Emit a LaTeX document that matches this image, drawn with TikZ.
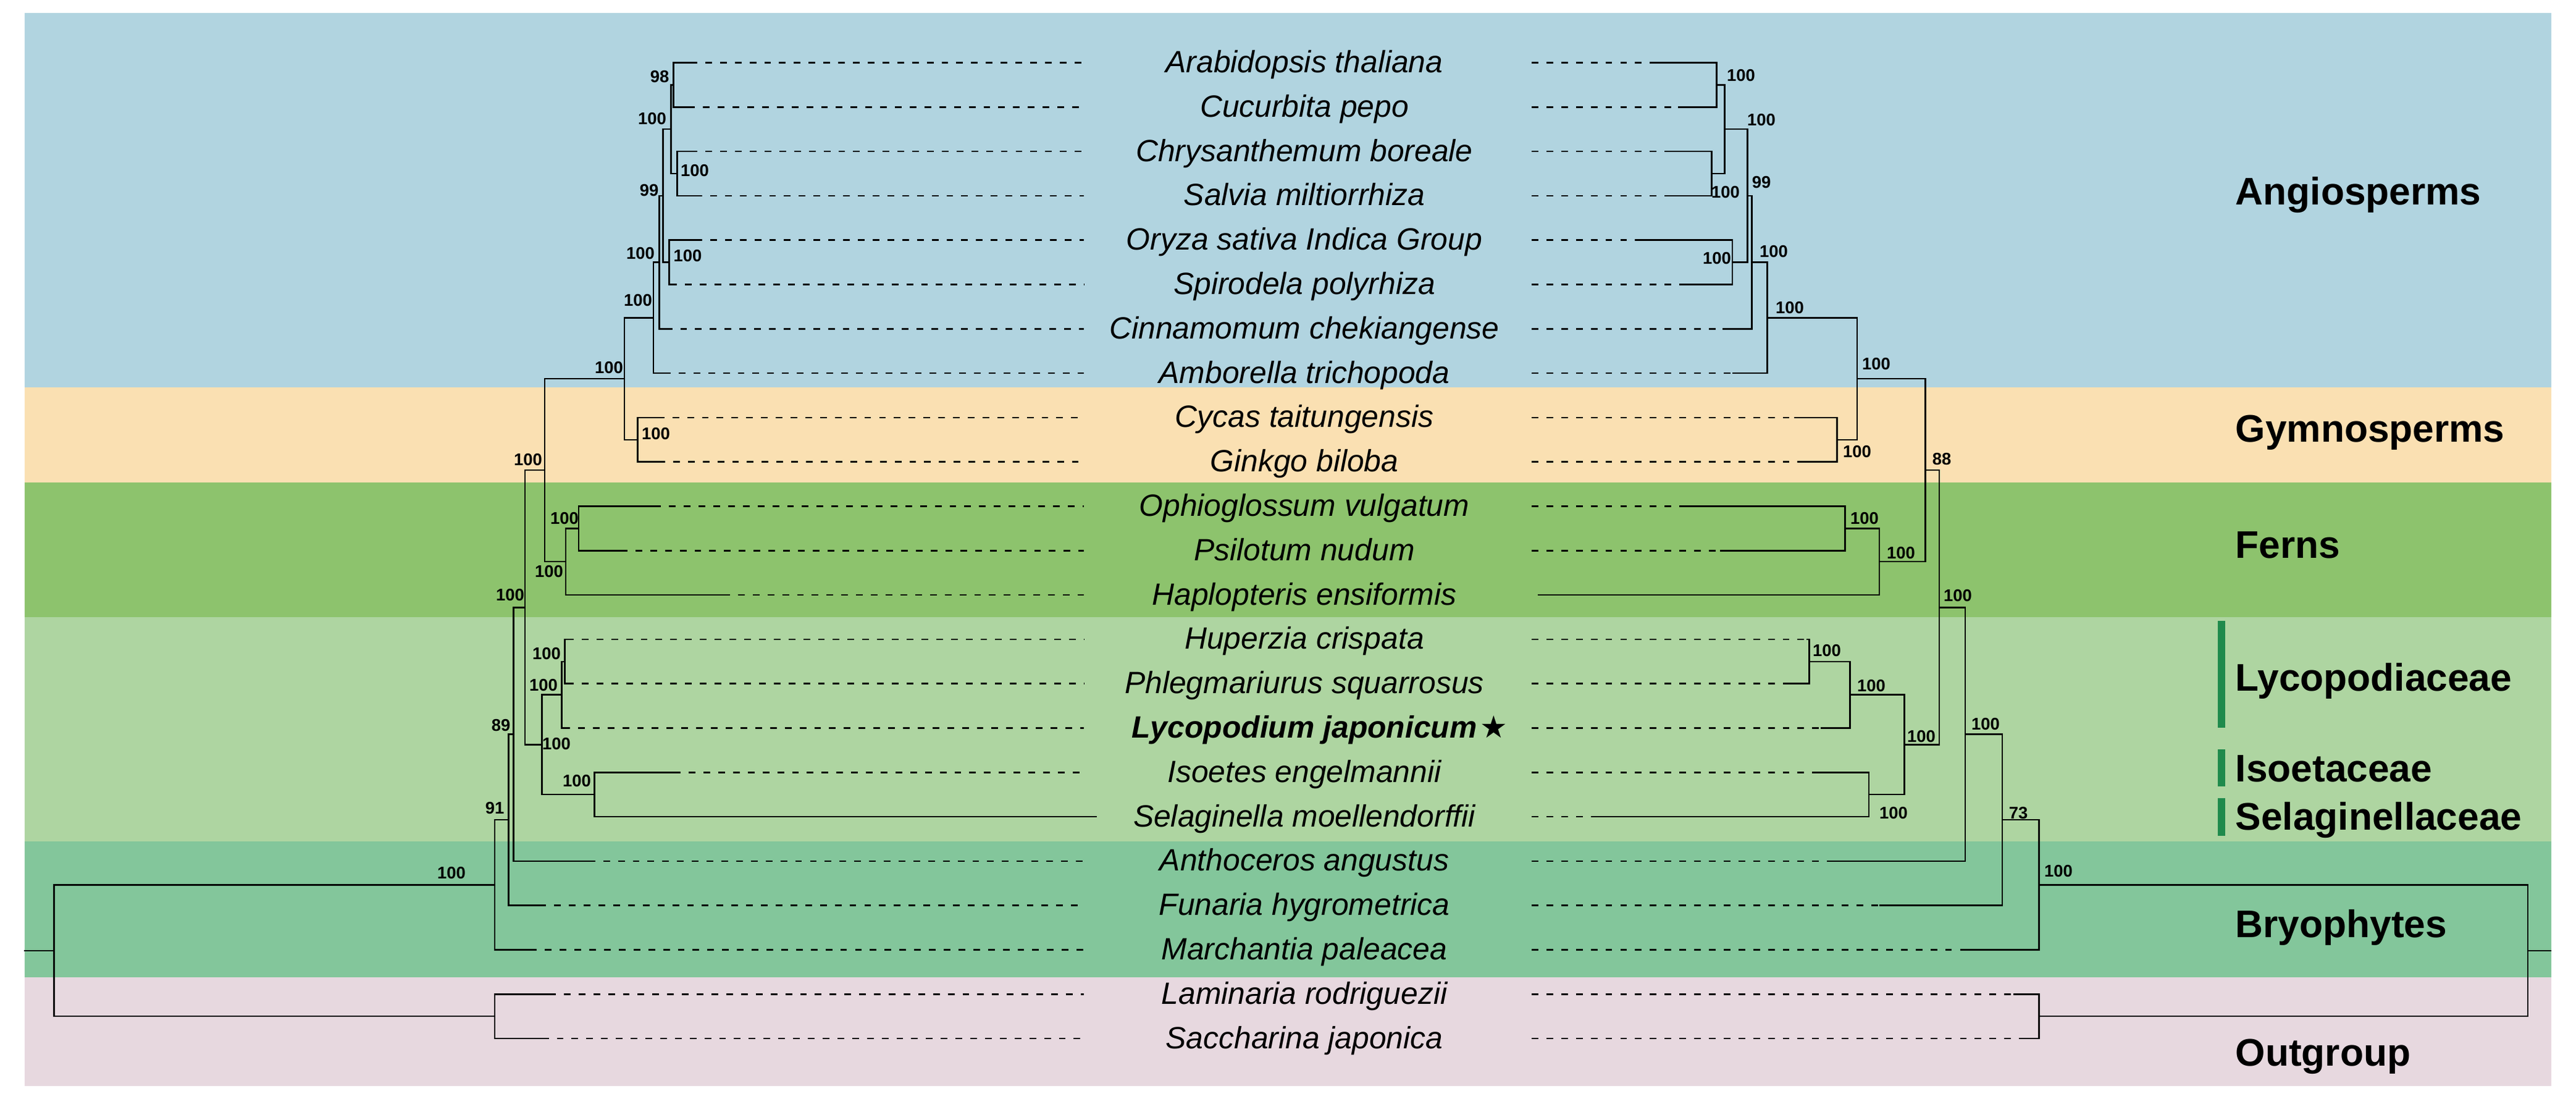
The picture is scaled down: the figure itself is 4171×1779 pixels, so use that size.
\documentclass[tikz,border=0pt]{standalone}
\usepackage{fontspec}
\setmainfont{Liberation Sans}
\newfontfamily\symfont{DejaVu Sans}
\definecolor{angio}{HTML}{B1D4E0}
\definecolor{gymno}{HTML}{FAE0B2}
\definecolor{fern}{HTML}{8DC36D}
\definecolor{lyco}{HTML}{AED5A1}
\definecolor{bryo}{HTML}{83C69B}
\definecolor{outg}{HTML}{E7D8DF}
\definecolor{barc}{HTML}{1F8A4C}
\tikzset{
  br/.style={line width=0.7pt},
  dsh/.style={line width=0.7pt, dash pattern=on 3.1pt off 3.7pt},
  bs/.style={font=\fontsize{7.8}{9}\selectfont\bfseries, inner sep=0pt},
  taxon/.style={font=\fontsize{14.17}{16}\selectfont\itshape, anchor=base, inner sep=0pt},
  grp/.style={font=\fontsize{17.7}{20}\selectfont\bfseries, anchor=base west, inner sep=0pt},
}
\begin{document}
\begin{tikzpicture}[x=0.01cm,y=-0.01cm]
\useasboundingbox (0,0) rectangle (4171,1779);
% background bands
\fill[angio] (40,21) rectangle (4131,627);
\fill[gymno] (40,627) rectangle (4131,781);
\fill[fern] (40,781) rectangle (4131,999);
\fill[lyco] (40,999) rectangle (4131,1362);
\fill[bryo] (40,1362) rectangle (4131,1582);
\fill[outg] (40,1582) rectangle (4131,1758);

% leaf coordinates
\foreach \i/\ls/\rs in {1/1118/2676, 2/1114.3/2717, 3/1118.4/2701, 4/1126/2698.7, 5/1126/2649.5, 6/1085/2726.8, 7/1077.6/2789, 8/1075/2805, 9/1064.8/2905, 10/1066/2912, 11/1059.3/2725.5, 12/1005/2784.8, 13/1171/2489.5, 14/918/2925, 15/918/2892, 16/912/2947.5, 17/1091.2/2941, 18/1776/2579.5, 19/952.8/2959, 20/873.4/3043, 21/858.4/3180, 22/889/3260, 23/877.6/3269.6}{
  \coordinate (ls\i) at (\ls,{101.5+(\i-1)*71.8});
  \coordinate (ld\i) at (1755,{101.5+(\i-1)*71.8});
  \coordinate (rs\i) at (\rs,{101.5+(\i-1)*71.8});
  \coordinate (rd\i) at (2480,{101.5+(\i-1)*71.8});
}

% left tree internal nodes
\coordinate (LA) at (1090.3,137.4);
\coordinate (LB) at (1096.4,281.0);
\coordinate (LC) at (1086.7,209.2);
\coordinate (LD) at (1083.7,424.6);
\coordinate (LE) at (1073.5,316.9);
\coordinate (LF) at (1067.3,424.6);
\coordinate (LG) at (1058.2,514.35);
\coordinate (LH) at (1032.7,711.8);
\coordinate (LI) at (1011.2,613.1);
\coordinate (LJ) at (936.9,855.4);
\coordinate (LK) at (915.8,909.25);
\coordinate (LM) at (882.0,761.2);
\coordinate (LN) at (914.6,1070.8);
\coordinate (LO) at (909.5,1124.65);
\coordinate (LP) at (962.4,1286.2);
\coordinate (LQ) at (877.6,1205.4);
\coordinate (LR) at (850.1,983.3);
\coordinate (LS) at (831.6,1188.6);
\coordinate (LT) at (823.3,1327.15);
\coordinate (LU) at (801.0,1432.3);
\coordinate (LW) at (801.0,1645.2);
\coordinate (LV) at (87.3,1538.75);
\coordinate (LV0) at (39,1538.75);

% right tree internal nodes
\coordinate (RA) at (2779.5,137.4);
\coordinate (RB) at (2771.4,281.0);
\coordinate (RC) at (2792.4,209.2);
\coordinate (RD) at (2804.9,424.6);
\coordinate (RE) at (2829.4,316.9);
\coordinate (RF) at (2836.6,424.6);
\coordinate (RG) at (2861.6,514.35);
\coordinate (RH) at (2974.5,711.8);
\coordinate (RI) at (3007.0,613.1);
\coordinate (RJ) at (2987.7,855.4);
\coordinate (RK) at (3043.0,909.25);
\coordinate (RM) at (3117.6,761.2);
\coordinate (RN) at (2929.6,1070.8);
\coordinate (RO) at (2995.3,1124.65);
\coordinate (RP) at (3026.0,1286.2);
\coordinate (RQ) at (3083.3,1205.4);
\coordinate (RR) at (3140.0,983.3);
\coordinate (RS) at (3182.2,1188.6);
\coordinate (RT) at (3242.2,1327.15);
\coordinate (RU) at (3301.5,1432.3);
\coordinate (RW) at (3301.5,1645.2);
\coordinate (RV) at (4092.8,1538.75);
\coordinate (RV0) at (4131,1538.75);

% branches of both trees
\foreach \p/\q in {L/l,R/r}{
  \draw[br] (\q s1) -| (\p A) |- (\q s2);
  \draw[br] (\q s3) -| (\p B) |- (\q s4);
  \draw[br] (\p A) -| (\p C) |- (\p B);
  \draw[br] (\q s5) -| (\p D) |- (\q s6);
  \draw[br] (\p C) -| (\p E) |- (\p D);
  \draw[br] (\p E) -| (\p F) |- (\q s7);
  \draw[br] (\p F) -| (\p G) |- (\q s8);
  \draw[br] (\q s9) -| (\p H) |- (\q s10);
  \draw[br] (\p G) -| (\p I) |- (\p H);
  \draw[br] (\q s11) -| (\p J) |- (\q s12);
  \draw[br] (\p J) -| (\p K) |- (\q s13);
  \draw[br] (\p I) -| (\p M) |- (\p K);
  \draw[br] (\q s14) -| (\p N) |- (\q s15);
  \draw[br] (\p N) -| (\p O) |- (\q s16);
  \draw[br] (\q s17) -| (\p P) |- (\q s18);
  \draw[br] (\p O) -| (\p Q) |- (\p P);
  \draw[br] (\p M) -| (\p R) |- (\p Q);
  \draw[br] (\p R) -| (\p S) |- (\q s19);
  \draw[br] (\p S) -| (\p T) |- (\q s20);
  \draw[br] (\p T) -| (\p U) |- (\q s21);
  \draw[br] (\q s22) -| (\p W) |- (\q s23);
  \draw[br] (\p U) -| (\p V) |- (\p W);
  \draw[br] (\p V) -- (\p V0);
}

% dashed tip extensions
\foreach \i in {1,2,3,4,5,6,7,8,9,10,11,12,13,14,15,16,17,19,20,21,22,23}{
  \draw[dsh] (ls\i) -- (ld\i);
}
\foreach \i in {1,2,3,4,5,6,7,8,9,10,11,12,14,15,16,17,18,19,20,21,22,23}{
  \draw[dsh] (rd\i) -- (rs\i);
}

% taxon names
\foreach \i/\name in {1/Arabidopsis thaliana, 2/Cucurbita pepo, 3/Chrysanthemum boreale, 4/Salvia miltiorrhiza, 5/Oryza sativa Indica Group, 6/Spirodela polyrhiza, 7/Cinnamomum chekiangense, 8/Amborella trichopoda, 9/Cycas taitungensis, 10/Ginkgo biloba, 11/Ophioglossum vulgatum, 12/Psilotum nudum, 13/Haplopteris ensiformis, 14/Huperzia crispata, 15/Phlegmariurus squarrosus, 17/Isoetes engelmannii, 18/Selaginella moellendorffii, 19/Anthoceros angustus, 20/Funaria hygrometrica, 21/Marchantia paleacea, 22/Laminaria rodriguezii, 23/Saccharina japonica}{
  \node[taxon] (t\i) at (2112,{101.5+(\i-1)*71.8+16}) {\name};
}
\node[taxon, font=\fontsize{14.17}{16}\selectfont\bfseries\itshape] (t16) at (2112,{101.5+15*71.8+16}) {Lycopodium japonicum};
\node[anchor=base west, inner sep=0pt, xshift=1pt, font=\fontsize{14.17}{16}\selectfont\symfont] (star) at (t16.base east) {★};

% bootstrap values, left tree
\node[bs] (bLA) at (1068,124) {98};
\node[bs] (bLC) at (1056,192) {100};
\node[bs] (bLB) at (1125,276) {100};
\node[bs] (bLE) at (1051,308) {99};
\node[bs] (bLD) at (1113.5,414) {100};
\node[bs] (bLF) at (1037,410) {100};
\node[bs] (bLG) at (1033,486) {100};
\node[bs] (bLH) at (1062,702) {100};
\node[bs] (bLI) at (986,595) {100};
\node[bs] (bLM) at (855,744) {100};
\node[bs] (bLJ) at (914,839) {100};
\node[bs] (bLK) at (889,925) {100};
\node[bs] (bLR) at (826,963) {100};
\node[bs] (bLN) at (885,1058) {100};
\node[bs] (bLO) at (880,1109) {100};
\node[bs] (bLQ) at (901,1204) {100};
\node[bs] (bLP) at (934,1264) {100};
\node[bs] (bLS) at (811,1174) {89};
\node[bs] (bLT) at (801,1308) {91};
\node[bs] (bLU) at (731,1413) {100};

% bootstrap values, right tree
\node[bs] (bRA) at (2819,122) {100};
\node[bs] (bRB) at (2794,311) {100};
\node[bs] (bRC) at (2852,194) {100};
\node[bs] (bRD) at (2780,418) {100};
\node[bs] (bRE) at (2852,295) {99};
\node[bs] (bRF) at (2872,407) {100};
\node[bs] (bRG) at (2898,498) {100};
\node[bs] (bRH) at (3007,731) {100};
\node[bs] (bRI) at (3038,589) {100};
\node[bs] (bRM) at (3144,743) {88};
\node[bs] (bRJ) at (3019,839) {100};
\node[bs] (bRK) at (3078,895) {100};
\node[bs] (bRR) at (3170,964) {100};
\node[bs] (bRN) at (2958,1053) {100};
\node[bs] (bRO) at (3030,1110) {100};
\node[bs] (bRP) at (3066,1316) {100};
\node[bs] (bRQ) at (3111,1192) {100};
\node[bs] (bRS) at (3215,1172) {100};
\node[bs] (bRT) at (3268,1316) {73};
\node[bs] (bRU) at (3333,1410) {100};

% group labels
\node[grp] (gAng) at (3619,332) {Angiosperms};
\node[grp] (gGym) at (3619,715) {Gymnosperms};
\node[grp] (gFer) at (3619,903) {Ferns};
\node[grp] (gLyc) at (3619,1118) {Lycopodiaceae};
\node[grp] (gIso) at (3619,1265) {Isoetaceae};
\node[grp] (gSel) at (3619,1343) {Selaginellaceae};
\node[grp] (gBry) at (3619,1517) {Bryophytes};
\node[grp] (gOut) at (3619,1725) {Outgroup};
\fill[barc] (3591,1005) rectangle (3603,1178);
\fill[barc] (3591,1213) rectangle (3603,1273);
\fill[barc] (3591,1292) rectangle (3603,1353);
\end{tikzpicture}
\end{document}
